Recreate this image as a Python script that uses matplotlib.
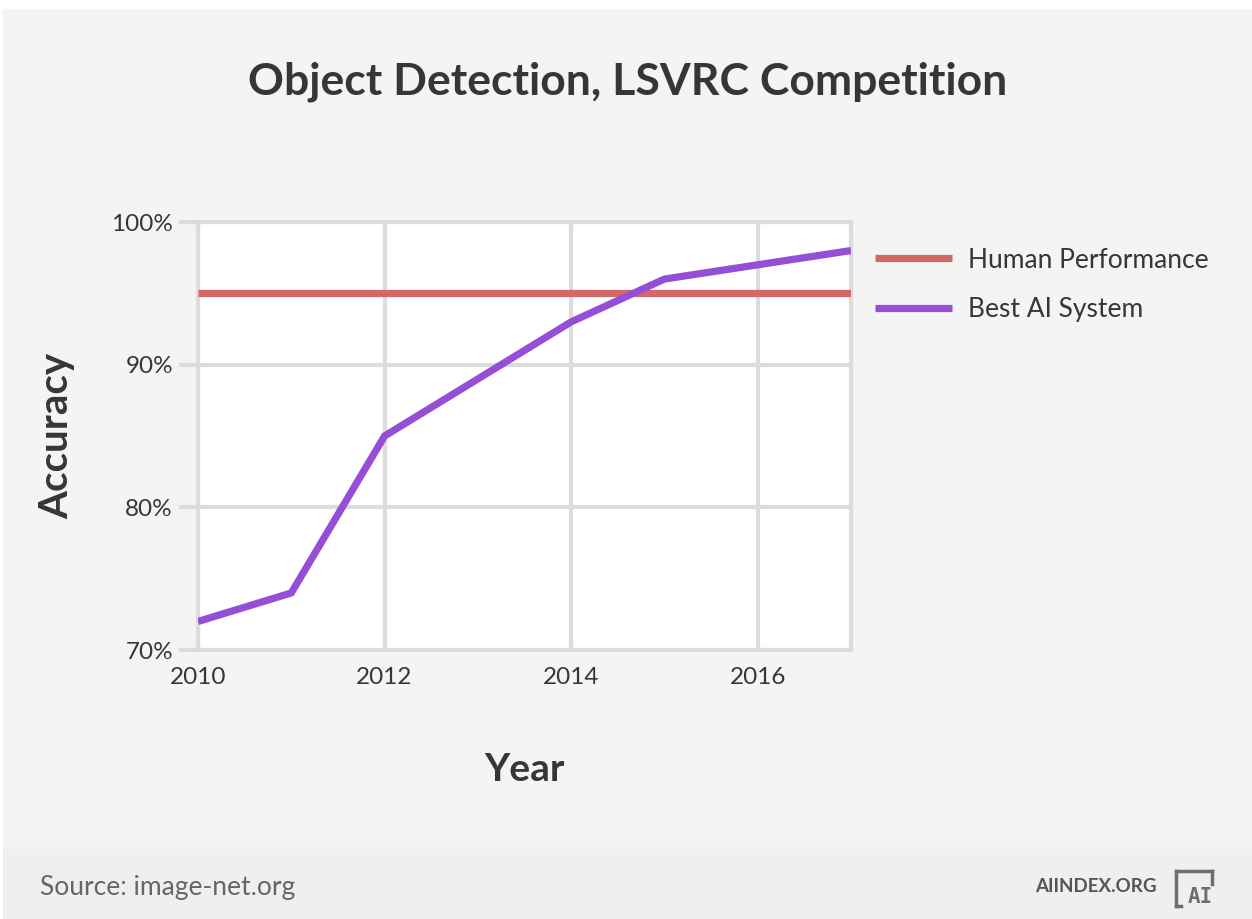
import matplotlib
matplotlib.use("Agg")
import matplotlib.pyplot as plt
from matplotlib.patches import Rectangle
from matplotlib.lines import Line2D
from matplotlib.ticker import FuncFormatter

# data
years = [2010, 2011, 2012, 2013, 2014, 2015, 2016, 2017]
best_ai = [72, 74, 85, 89, 93, 96, 97, 98]
human = [95] * len(years)
x_ticks = [2010, 2012, 2014, 2016]
y_ticks = [70, 80, 90, 100]

W, H = 1252, 919
TEXT = "#363636"
GRID = "#dcdcdc"

plt.rcParams['font.family'] = ['Lato', 'DejaVu Sans']

fig = plt.figure(figsize=(W / 100, H / 100), dpi=100)
fig.patch.set_facecolor("white")

# background panel and footer band
fig.patches.append(Rectangle((3 / W, 0), 1, 1 - 9 / H, transform=fig.transFigure,
                             facecolor="#f4f4f4", edgecolor="none", zorder=-2))
fig.patches.append(Rectangle((3 / W, 0), 1, 70 / H, transform=fig.transFigure,
                             facecolor="#efefef", edgecolor="none", zorder=-1))

ax = fig.add_axes([198 / W, 1 - 650 / H, (851 - 198) / W, (650 - 222) / H])
ax.set_facecolor("white")

ax.plot(years, human, color="#d26868", lw=5.2, solid_capstyle="butt",
        label="Human Performance", zorder=3)
ax.plot(years, best_ai, color="#964ed6", lw=5.2, solid_capstyle="butt",
        solid_joinstyle="miter", label="Best AI System", zorder=4)

ax.set_xlim(2010, 2017)
ax.set_ylim(70, 100)
ax.set_xticks(x_ticks)
ax.set_yticks(y_ticks)
ax.yaxis.set_major_formatter(FuncFormatter(lambda v, p: f"{v:.0f}%"))
ax.grid(True, color=GRID, lw=3, zorder=1)
for s in ax.spines.values():
    s.set_color(GRID)
    s.set_linewidth(3)
    s.set_zorder(1)
ax.tick_params(axis="y", length=14, width=3, color=GRID, pad=4,
               labelsize=17.5, labelcolor=TEXT)
ax.tick_params(axis="x", length=0, pad=12, labelsize=17.5, labelcolor=TEXT)

ax.set_xlabel("Year", fontsize=28, fontweight="bold", color=TEXT, labelpad=46)
ax.set_ylabel("Accuracy", fontsize=29, fontweight="bold", color=TEXT, labelpad=26)

fig.text(0.5016, 1 - 82 / H, "Object Detection, LSVRC Competition",
         ha="center", va="center", fontsize=32, fontweight="bold", color=TEXT)

leg = ax.legend(loc="upper left", bbox_to_anchor=(1.02, 0.965), frameon=False,
                fontsize=19, handlelength=2.95, handletextpad=0.6,
                labelspacing=0.92, borderaxespad=0)
for t in leg.get_texts():
    t.set_color(TEXT)

# footer
fig.text(40 / W, 1 - 887 / H, "Source: image-net.org", ha="left", va="center",
         fontsize=19, color="#666666")
fig.text(1157 / W, 1 - 887 / H, "AIINDEX.ORG", ha="right", va="center",
         fontsize=13.5, fontweight="bold", color="#555555")

# logo bracket
logo = "#6e6e6e"
for xs, ys in [([1176, 1212], [871, 871]), ([1212, 1212], [871, 884]),
               ([1176, 1176], [871, 906]), ([1176, 1181], [906, 906])]:
    fig.add_artist(Line2D([x / W for x in xs], [1 - y / H for y in ys],
                          transform=fig.transFigure, color=logo, lw=2.5))
fig.text(1200 / W, 1 - 897 / H, "AI", ha="center", va="center", fontsize=15,
         fontweight="bold", color=logo, family="DejaVu Sans Mono")

fig.savefig("out.png", dpi=100, facecolor=fig.get_facecolor())
